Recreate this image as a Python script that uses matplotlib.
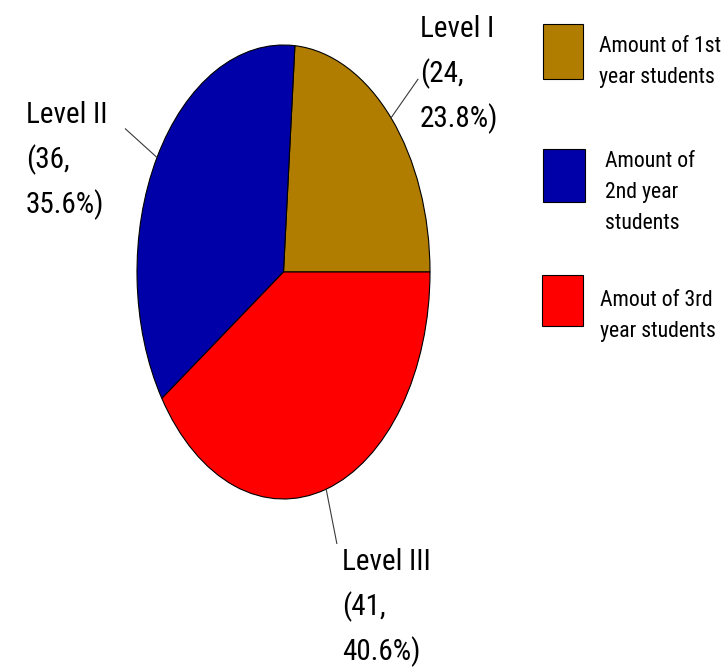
import os
import numpy as np
import matplotlib
matplotlib.use('Agg')
import matplotlib.pyplot as plt
from matplotlib import font_manager
from matplotlib.font_manager import FontProperties
from matplotlib.patches import Rectangle

# students per level
levels = ['Level I', 'Level II', 'Level III']
counts = [24, 36, 41]
colors = ['#B07D00', '#0000A8', '#FF0000']
legend_texts = [['Amount of 1st', 'year students'],
                ['Amount of', '2nd year', 'students'],
                ['Amout of 3rd', 'year students']]

W, H = 724, 672


def fx(x):
    return x / W


def fy(y):
    return 1 - y / H


def pick_font():
    # a narrow sans face if one is installed, plain Liberation Sans otherwise
    prefs = ['liberationsansnarrow-regular', 'arialnarrow',
             'robotocondensed-regular', 'notosans-condensed.',
             'opensans-condensed', 'opensans_condensed-regular',
             'dejavusanscondensed.']
    files = [f.fname for f in font_manager.fontManager.ttflist]
    for p in prefs:
        for fn in files:
            if p in os.path.basename(fn).lower().replace(' ', ''):
                return FontProperties(fname=fn)
    return FontProperties(family='Liberation Sans')


fig = plt.figure(figsize=(W / 100, H / 100), dpi=100)
renderer = fig.canvas.get_renderer()
font = pick_font()


def fit_size(sample, width_px, cap_px, slack):
    p = font.copy()
    p.set_size(10)
    w, _, _ = renderer.get_text_width_height_descent(sample, p, ismath=False)
    size_w = 10 * width_px / w
    size_h = cap_px / (0.72 * 100 / 72)
    return min(size_h, size_w * slack)


ax = fig.add_axes([fx(137), fy(499), 293 / W, 454 / H])
wedges, _ = ax.pie(counts, colors=colors, startangle=0, counterclock=True,
                   wedgeprops=dict(edgecolor='black', linewidth=0.8))
ax.set_aspect('auto')
ax.set_xlim(-1, 1)
ax.set_ylim(-1, 1)
ax.axis('off')

# leader lines from the rim out along each slice's middle angle
total = sum(counts)
start = 0.0
mids = []
for c in counts:
    span = 360.0 * c / total
    mids.append(np.deg2rad(start + span / 2))
    start += span
for m in mids:
    ax.plot([np.cos(m), 1.25 * np.cos(m)], [np.sin(m), 1.25 * np.sin(m)],
            color='#3a3a3a', lw=0.8, clip_on=False)

lab_font = font.copy()
lab_font.set_size(fit_size('35.6%)', 72, 21, 1.15))
label_pos = [(420, 37), (26, 123), (342, 570)]
for name, c, (x, y) in zip(levels, counts, label_pos):
    pct = 100.0 * c / total
    lines = [name, '(%d,' % c, '%.1f%%)' % pct]
    for i, s in enumerate(lines):
        fig.text(fx(x), fy(y + 45 * i), s, fontproperties=lab_font,
                 ha='left', va='baseline')

# legend boxes
leg_font = font.copy()
leg_font.set_size(fit_size('Amount of 1st', 110, 20, 1.1))
boxes = [(543, 24, 40, 55), (543, 149, 42, 53), (542, 275, 41, 51)]
text_pos = [(599, 52), (605, 167), (600, 306)]
for col, (bx, by, bw, bh), (tx, ty), t in zip(colors, boxes, text_pos, legend_texts):
    fig.add_artist(Rectangle((fx(bx), fy(by + bh)), bw / W, bh / H,
                             transform=fig.transFigure, facecolor=col,
                             edgecolor='black', linewidth=0.8))
    for i, s in enumerate(t):
        fig.text(fx(tx), fy(ty + 31 * i), s, fontproperties=leg_font,
                 ha='left', va='baseline')

fig.savefig('out.png', dpi=100)
